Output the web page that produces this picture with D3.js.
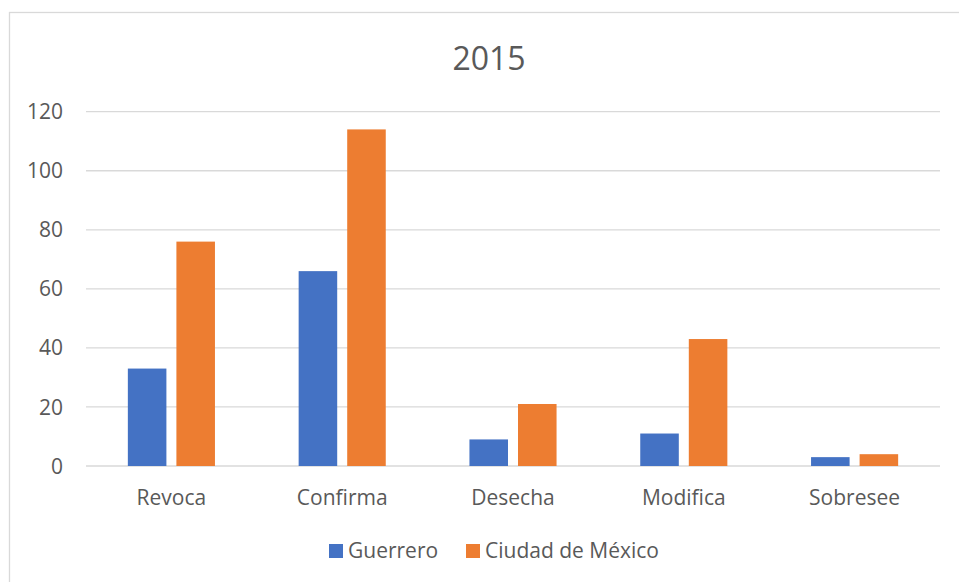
<!DOCTYPE html>
<html>
<head>
<meta charset="utf-8">
<script src="https://cdn.jsdelivr.net/npm/d3@7"></script>
<style>
  html, body { margin: 0; padding: 0; background: #fff; }
  svg { display: block; font-family: "Open Sans", sans-serif; }
</style>
</head>
<body>
<div id="chart"></div>
<script>
// Data
const categories = ["Revoca", "Confirma", "Desecha", "Modifica", "Sobresee"];
const series = ["Guerrero", "Ciudad de México"];
const guerrero = [33, 66, 9, 11, 3];
const cdmx = [76, 114, 21, 43, 4];
const yTicks = [0, 20, 40, 60, 80, 100, 120];
const colors = ["#4472C4", "#ED7D31"];

const data = categories.map((c, i) => ({
  category: c,
  values: [guerrero[i], cdmx[i]]
}));

const width = 959, height = 582;
const svg = d3.select("#chart")
  .append("svg")
  .attr("width", width)
  .attr("height", height);

// Chart border (runs off the right and bottom edge)
svg.append("rect")
  .attr("x", 9.5).attr("y", 12.5)
  .attr("width", 980).attr("height", 600)
  .attr("fill", "none")
  .attr("stroke", "#D9D9D9")
  .attr("stroke-width", 1.3);

// Scales
const x0 = d3.scaleBand()
  .domain(categories)
  .range([86, 940])
  .padding(0);

const groupW = x0.bandwidth() * 0.51;
const x1 = d3.scaleBand()
  .domain(series)
  .range([(x0.bandwidth() - groupW) / 2, (x0.bandwidth() + groupW) / 2])
  .paddingInner(0.206);

const y = d3.scaleLinear()
  .domain([0, 120])
  .range([466, 111.7]);

// Gridlines
svg.append("g")
  .selectAll("line")
  .data(yTicks)
  .enter()
  .append("line")
  .attr("x1", 86)
  .attr("x2", 940)
  .attr("y1", d => y(d))
  .attr("y2", d => y(d))
  .attr("stroke", "#D9D9D9")
  .attr("stroke-width", 1.3);

// Y labels
svg.append("g")
  .selectAll("text")
  .data(yTicks)
  .enter()
  .append("text")
  .attr("x", 63)
  .attr("y", d => y(d))
  .attr("dy", "0.36em")
  .attr("text-anchor", "end")
  .attr("fill", "#595959")
  .style("font-size", "21px")
  .text(d => d);

// Bars
const groups = svg.append("g")
  .selectAll("g")
  .data(data)
  .enter()
  .append("g")
  .attr("transform", d => `translate(${x0(d.category)},0)`);

groups.selectAll("rect")
  .data(d => d.values.map((v, i) => ({ key: series[i], value: v, i: i })))
  .enter()
  .append("rect")
  .attr("x", d => x1(d.key))
  .attr("y", d => y(d.value))
  .attr("width", x1.bandwidth())
  .attr("height", d => y(0) - y(d.value))
  .attr("fill", d => colors[d.i]);

// Category labels
svg.append("g")
  .selectAll("text")
  .data(categories)
  .enter()
  .append("text")
  .attr("x", d => x0(d) + x0.bandwidth() / 2)
  .attr("y", 505)
  .attr("text-anchor", "middle")
  .attr("fill", "#595959")
  .style("font-size", "21px")
  .text(d => d);

// Title
svg.append("text")
  .attr("x", 489)
  .attr("y", 70)
  .attr("text-anchor", "middle")
  .attr("fill", "#595959")
  .style("font-size", "32px")
  .text("2015");

// Legend
const legendX = [329, 466];
const legend = svg.append("g")
  .selectAll("g")
  .data(series)
  .enter()
  .append("g")
  .attr("transform", (d, i) => `translate(${legendX[i]},544)`);

legend.append("rect")
  .attr("width", 14)
  .attr("height", 14)
  .attr("fill", (d, i) => colors[i]);

legend.append("text")
  .attr("x", 19)
  .attr("y", 14)
  .attr("fill", "#595959")
  .style("font-size", "21px")
  .text(d => d);
</script>
</body>
</html>
